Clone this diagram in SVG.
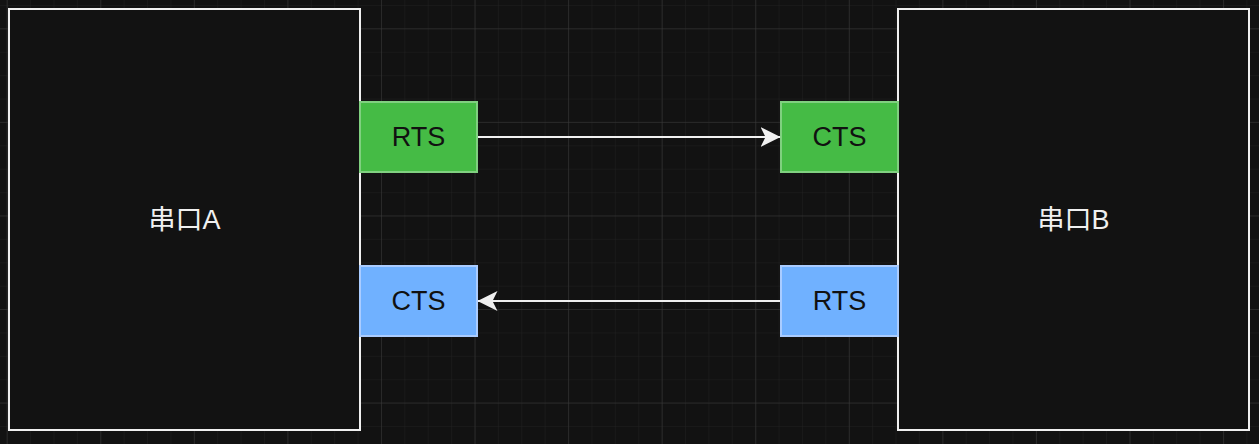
<svg xmlns="http://www.w3.org/2000/svg" width="1259" height="444" viewBox="0 0 1259 444">
<defs>
<pattern id="minor" x="6.7" y="5" width="23.39" height="23.39" patternUnits="userSpaceOnUse">
<path d="M0 0H23.39M0 0V23.39" fill="none" stroke="#202020" stroke-width="1"/>
</pattern>
<pattern id="major" x="6.7" y="28.3" width="93.57" height="93.57" patternUnits="userSpaceOnUse">
<path d="M0 0H93.57M0 0V93.57" fill="none" stroke="#3a3a3a" stroke-width="1"/>
</pattern>
<marker id="arr" viewBox="0 0 20 20" refX="19.5" refY="10" markerWidth="20" markerHeight="20" markerUnits="userSpaceOnUse" orient="auto">
<path d="M0 0L20 10L0 20L5 10Z" fill="#f0f0f0"/>
</marker>
<style>
.port{stroke:#f0f0f0;stroke-width:2;fill:#121212}
.g{fill:#45bb45;stroke:#80d080;stroke-width:2}
.b{fill:#70b1ff;stroke:#aaccff;stroke-width:2}
.t{font-family:"Liberation Sans","Noto Sans CJK SC",Arial,sans-serif;font-size:27px;text-anchor:middle;dominant-baseline:central}
.lt{fill:#f0f0f0}
.dt{fill:#111111}
.c{stroke:#f0f0f0;stroke-width:2;fill:none}
</style>
</defs>
<rect width="1259" height="444" fill="#121212"/>
<rect width="1259" height="444" fill="url(#minor)"/>
<rect width="1259" height="444" fill="url(#major)"/>
<g id="portA"><rect class="port" x="9" y="9" width="351" height="421"/><text class="t lt" x="184.5" y="220">串口A</text></g>
<g id="portB"><rect class="port" x="898" y="9" width="351" height="421"/><text class="t lt" x="1073.5" y="220">串口B</text></g>
<g id="rtsA"><rect class="g" x="360" y="102" width="117" height="70"/><text class="t dt" x="418.5" y="137">RTS</text></g>
<g id="ctsB"><rect class="g" x="781" y="102" width="117" height="70"/><text class="t dt" x="839.5" y="137">CTS</text></g>
<g id="ctsA"><rect class="b" x="360" y="266" width="117" height="70"/><text class="t dt" x="418.5" y="301">CTS</text></g>
<g id="rtsB"><rect class="b" x="781" y="266" width="117" height="70"/><text class="t dt" x="839.5" y="301">RTS</text></g>
<g id="connectors">
<path class="c" d="M478 137H780" marker-end="url(#arr)"/>
<path class="c" d="M780 301H478" marker-end="url(#arr)"/>
</g>
</svg>
